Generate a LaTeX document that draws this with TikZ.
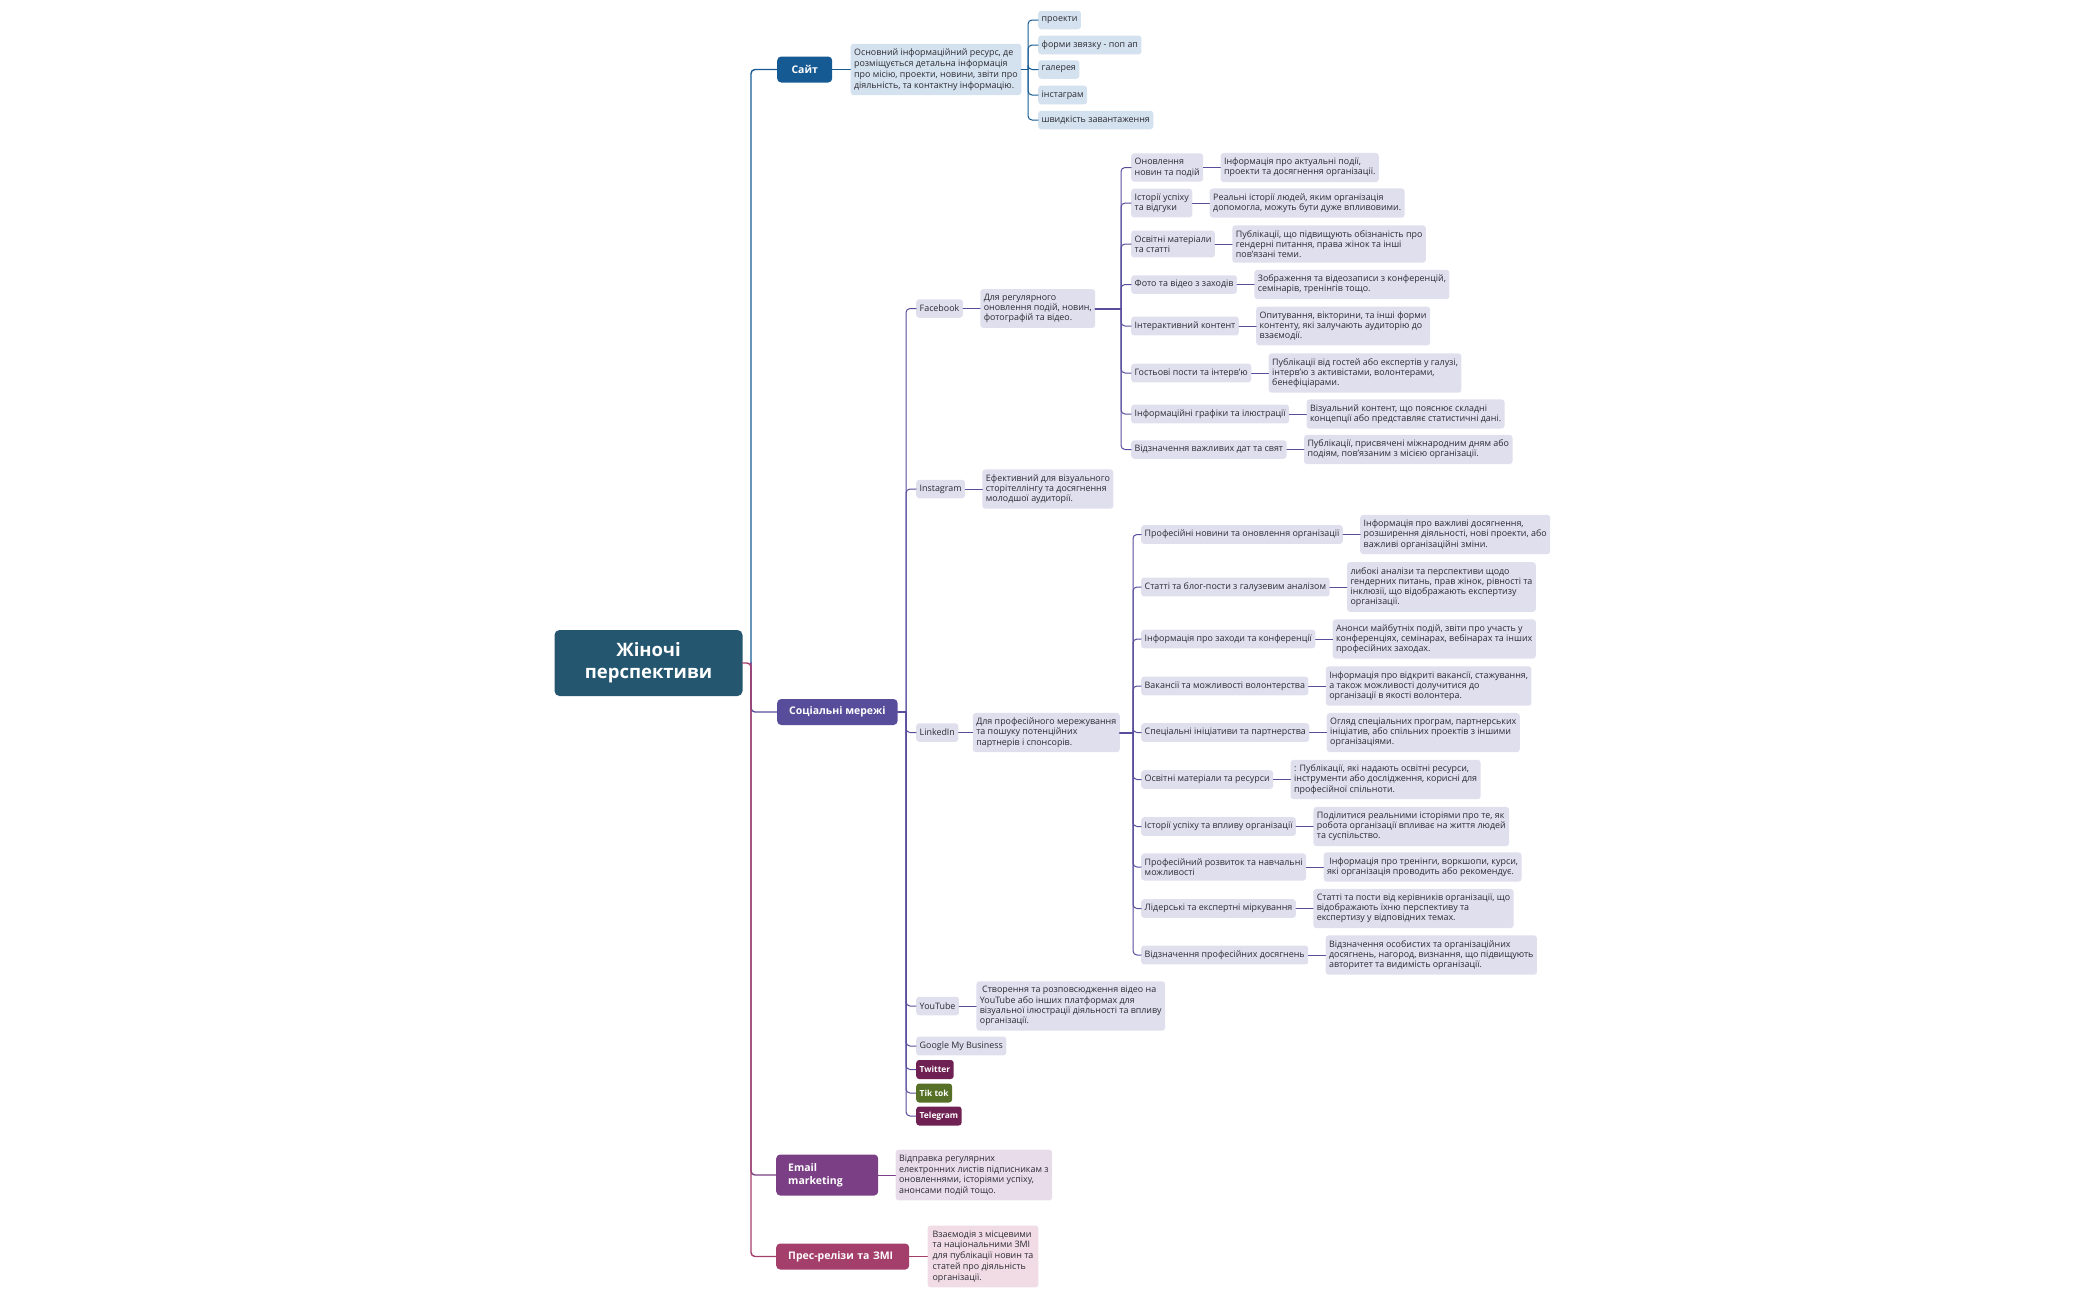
\documentclass[tikz,border=0pt]{standalone}
\usepackage{fontspec}
\setmainfont{Open Sans}
\usetikzlibrary{positioning}
\definecolor{rootc}{HTML}{24566F}
\definecolor{sitec}{HTML}{165A94}
\definecolor{sitel}{HTML}{D4E1EE}
\definecolor{socc}{HTML}{574D9B}
\definecolor{socl}{HTML}{E0DFEE}
\definecolor{mailc}{HTML}{7B3F86}
\definecolor{maill}{HTML}{E9DCEA}
\definecolor{pressc}{HTML}{A43E6B}
\definecolor{pressl}{HTML}{F1DCE5}
\definecolor{twc}{HTML}{6E2152}
\definecolor{ttc}{HTML}{567028}
\definecolor{txtc}{HTML}{2B2B33}
\tikzset{
 box/.style={rounded corners=3pt, anchor=west, align=left, text=txtc, inner xsep=3.5pt, inner ysep=5pt, minimum height=18.5pt, font=\fontsize{8.9}{10.2}\selectfont},
 sitebox/.style={box, fill=sitel, font=\fontsize{8.9}{10.8}\selectfont},
 socbox/.style={box, fill=socl},
 topic/.style={rounded corners=4pt, anchor=west, text=white, inner xsep=12pt, minimum height=26pt, font=\fontsize{10.5}{13.3}\selectfont\bfseries},
 tag/.style={rounded corners=3pt, anchor=west, text=white, inner xsep=3.5pt, minimum height=19pt, font=\fontsize{8.4}{10}\selectfont\bfseries},
 ln/.style={line width=1pt, rounded corners=4pt},
}
\begin{document}
\begin{tikzpicture}[x=1pt, y=-1pt, line join=round, line cap=round]
\useasboundingbox (0,0) rectangle (2100,1299);
\node[rounded corners=5pt, fill=rootc, text=white, minimum width=188pt, minimum height=66pt, align=center, font=\fontsize{18.5}{21.7}\selectfont\bfseries] (root) at (648.5,663) {Жіночі\\перспективи};
\coordinate (trunk) at (751,663);
\node[topic, fill=sitec, minimum width=55pt] (site) at (777,69.5) {Сайт};
\node[topic, fill=socc] (soc) at (777,712) {Соціальні мережі};
\node[topic, fill=mailc, text width=78pt, align=left, minimum height=41pt] (mail) at (776,1175) {Email\\marketing};
\node[topic, fill=pressc, text width=109pt, align=left] (press) at (776,1256.5) {Прес-релізи та ЗМІ};
\draw[ln, line width=1.4pt, sitec] (trunk) |- (site);
\draw[ln, line width=1.4pt, socc] (trunk) |- (soc);
\draw[ln, line width=1.4pt, mailc] (trunk) |- (mail);
\draw[ln, line width=1.4pt, pressc] (root) -- (trunk) |- (press);

\node[sitebox, right=18pt of site] (sited) {Основний інформаційний ресурс, де\\розміщується детальна інформація\\про місію, проекти, новини, звіти про\\діяльність, та контактну інформацію.};
\draw[ln, sitec] (site) -- (sited);
\coordinate (sitej) at (1028,69.5);
\draw[ln, line width=1.8pt, sitec] (sited) -- (sitej);
\foreach \n/\y/\t in {1/20/проекти, 2/45/форми звязку - поп ап, 3/69.5/галерея, 4/95/інстаграм, 5/120/швидкість завантаження}{
 \node[sitebox] (site\n) at (1038,\y) {\t};
 \draw[ln, sitec] (sitej) |- (site\n);
}

\coordinate (socj) at (906,712);
\draw[ln, line width=1.4pt, socc] (soc) -- (socj);
\foreach \n/\y/\t in {fb/308.5/Facebook, ig/489/Instagram, li/732.5/LinkedIn, yt/1006/YouTube, gmb/1046/Google My Business}{
 \node[socbox] (\n) at (916,\y) {\t};
 \draw[ln, socc] (socj) |- (\n);
}
\foreach \n/\y/\c/\t in {tw/1069.5/twc/Twitter, tt/1093/ttc/Tik tok, tg/1116/twc/Telegram}{
 \node[tag, fill=\c] (\n) at (916,\y) {\t};
 \draw[ln, socc] (socj) |- (\n);
}
\node[socbox, right=17pt of fb] (fbd) {Для регулярного\\оновлення подій, новин,\\фотографій та відео.};
\node[socbox, right=17pt of ig] (igd) {Ефективний для візуального\\сторітеллінгу та досягнення\\молодшої аудиторії.};
\node[socbox, right=14pt of li] (lid) {Для професійного мережування\\та пошуку потенційних\\партнерів і спонсорів.};
\node[socbox, right=17pt of yt] (ytd) {\ Створення та розповсюдження відео на\\YouTube або інших платформах для\\візуальної ілюстрації діяльності та впливу\\організації.};
\foreach \n in {fb,ig,li,yt}\draw[ln, socc] (\n) -- (\n d);

\coordinate (fbj) at (1121,308.5);
\draw[ln, line width=2pt, socc] (fbd) -- (fbj);
\foreach \n/\y/\t/\d in {
 1/167.5/{Оновлення\\новин та подій}/{Інформація про актуальні події,\\проекти та досягнення організації.},
 2/203/{Історії успіху\\та відгуки}/{Реальні історії людей, яким організація\\допомогла, можуть бути дуже впливовими.},
 3/244/{Освітні матеріали\\та статті}/{Публікації, що підвищують обізнаність про\\гендерні питання, права жінок та інші\\пов'язані теми.},
 4/284.5/{Фото та відео з заходів}/{Зображення та відеозаписи з конференцій,\\семінарів, тренінгів тощо.},
 5/326/{Інтерактивний контент}/{Опитування, вікторини, та інші форми\\контенту, які залучають аудиторію до\\взаємодії.},
 6/373/{Гостьові пости та інтерв'ю}/{Публікації від гостей або експертів у галузі,\\інтерв'ю з активістами, волонтерами,\\бенефіціарами.},
 7/414/{Інформаційні графіки та ілюстрації}/{Візуальний контент, що пояснює складні\\концепції або представляє статистичні дані.},
 8/449.5/{Відзначення важливих дат та свят}/{Публікації, присвячені міжнародним дням або\\подіям, пов'язаним з місією організації.}}{
 \node[socbox] (fb\n) at (1131,\y) {\t};
 \node[socbox, right=17pt of fb\n] (fbd\n) {\d};
 \draw[ln, socc] (fbj) |- (fb\n);
 \draw[ln, socc] (fb\n) -- (fbd\n);
}

\coordinate (lij) at (1133,732.5);
\draw[ln, line width=2pt, socc] (lid) -- (lij);
\foreach \n/\y/\t/\d in {
 1/534.5/{Професійні новини та оновлення організації}/{Інформація про важливі досягнення,\\розширення діяльності, нові проекти, або\\важливі організаційні зміни.},
 2/587/{Статті та блог-пости з галузевим аналізом}/{либокі аналізи та перспективи щодо\\гендерних питань, прав жінок, рівності та\\інклюзії, що відображають експертизу\\організації.},
 3/639/{Інформація про заходи та конференції}/{Анонси майбутніх подій, звіти про участь у\\конференціях, семінарах, вебінарах та інших\\професійних заходах.},
 4/686/{Вакансії та можливості волонтерства}/{Інформація про відкриті вакансії, стажування,\\а також можливості долучитися до\\організації в якості волонтера.},
 5/732.5/{Спеціальні ініціативи та партнерства}/{Огляд спеціальних програм, партнерських\\ініціатив, або спільних проектів з іншими\\організаціями.},
 6/779.5/{Освітні матеріали та ресурси}/{: Публікації, які надають освітні ресурси,\\інструменти або дослідження, корисні для\\професійної спільноти.},
 7/826.5/{Історії успіху та впливу організації}/{Поділитися реальними історіями про те, як\\робота організації впливає на життя людей\\та суспільство.},
 8/867/{Професійний розвиток та навчальні\\можливості}/{\ Інформація про тренінги, воркшопи, курси,\\які організація проводить або рекомендує.},
 9/908.5/{Лідерські та експертні міркування}/{Статті та пости від керівників організації, що\\відображають їхню перспективу та\\експертизу у відповідних темах.},
 10/955/{Відзначення професійних досягнень}/{Відзначення особистих та організаційних\\досягнень, нагород, визнання, що підвищують\\авторитет та видимість організації.}}{
 \node[socbox] (li\n) at (1141,\y) {\t};
 \node[socbox, right=17pt of li\n] (lid\n) {\d};
 \draw[ln, socc] (lij) |- (li\n);
 \draw[ln, socc] (li\n) -- (lid\n);
}

\node[box, fill=maill, font=\fontsize{8.9}{10.8}\selectfont, right=17pt of mail] (maild) {Відправка регулярних\\електронних листів підписникам з\\оновленнями, історіями успіху,\\анонсами подій тощо.};
\draw[ln, mailc] (mail) -- (maild);
\node[box, fill=pressl, font=\fontsize{8.9}{10.8}\selectfont, inner xsep=5pt, right=18pt of press] (pressd) {Взаємодія з місцевими\\та національними ЗМІ\\для публікації новин та\\статей про діяльність\\організації.};
\draw[ln, pressc] (press) -- (pressd);
\end{tikzpicture}
\end{document}
